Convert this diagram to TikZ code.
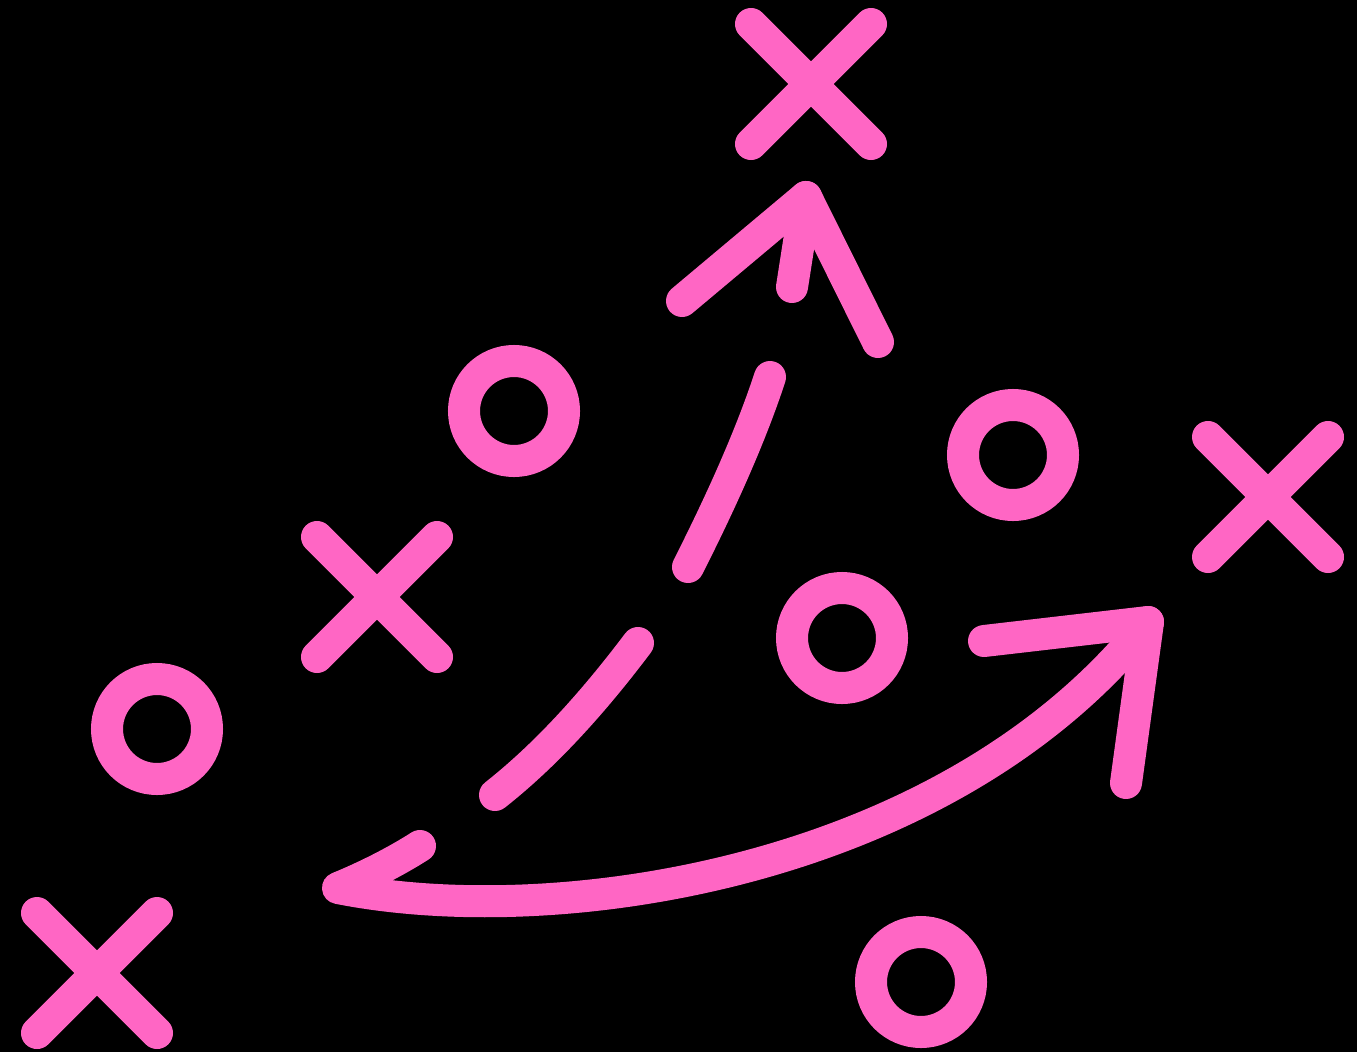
\documentclass[tikz,border=0pt]{standalone}
\definecolor{pinkc}{HTML}{FF66C4}
\begin{document}
\begin{tikzpicture}[x=1pt,y=-1pt,
  ink/.style={draw=pinkc,line width=32pt,line cap=round,line join=round},
  ring/.style={draw=pinkc,line width=32pt},
  cross/.pic={\draw[ink] (-60,-60) -- (60,60) (60,-60) -- (-60,60);}]
\fill[black] (0,0) rectangle (1357,1052);
\useasboundingbox (0,0) rectangle (1357,1052);
% crosses
\pic at (811,84) {cross};
\pic at (377,597) {cross};
\pic at (1268,497) {cross};
\pic at (97,973) {cross};
% circles
\draw[ring] (514,411) circle (50);
\draw[ring] (1013,455) circle (50);
\draw[ring] (842,638) circle (50);
\draw[ring] (157,729) circle (50);
\draw[ring] (921,982) circle (50);
% dashed upward arrow
\draw[ink] (495,795) .. controls (542,758) and (589,708) .. (638,643);
\draw[ink] (688,567) .. controls (726,492) and (753,429) .. (770,377);
\draw[ink] (792,287) -- (806,197);
\draw[ink] (682,301) -- (806,197) -- (878,342);
% big curved arrow
\draw[ink] (420,846) .. controls (395,862) and (365,877) .. (338,888)
  .. controls (560,932) and (950,872) .. (1148,622);
\draw[ink] (984,641) -- (1148,622) -- (1126,783);
\end{tikzpicture}
\end{document}
